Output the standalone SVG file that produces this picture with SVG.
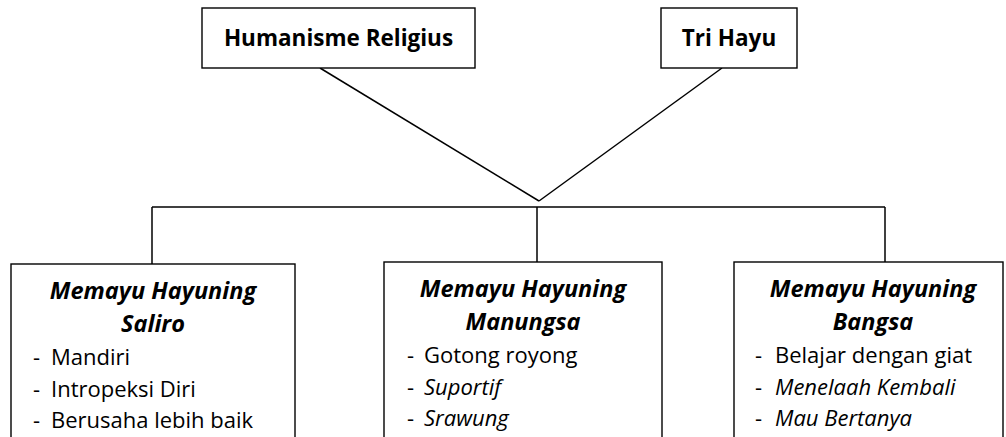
<svg xmlns="http://www.w3.org/2000/svg" width="1006" height="437" viewBox="0 0 1006 437">
<style>
.box{fill:#fff;stroke:#000;stroke-width:1.4}
.ln{fill:none;stroke:#000;stroke-width:1.5}
text{font-family:"Open Sans","Noto Sans",sans-serif;fill:#000}
.hd{font-weight:bold;font-size:22.5px;text-anchor:middle}
.ti{font-weight:bold;font-style:italic;font-size:23.5px;text-anchor:middle}
.it{font-size:22px}
.i{font-style:italic}
</style>
<rect width="1006" height="437" fill="#fff"/>
<g id="connectors">
<line class="ln" x1="320" y1="68" x2="539" y2="201"/>
<line class="ln" x1="722" y1="68" x2="539" y2="201"/>
<line class="ln" x1="152" y1="207" x2="885" y2="207"/>
<line class="ln" x1="152" y1="207" x2="152" y2="264"/>
<line class="ln" x1="537" y1="207" x2="537" y2="262"/>
<line class="ln" x1="885" y1="207" x2="885" y2="262"/>
</g>
<g id="humanisme">
<rect class="box" x="202" y="8" width="273" height="60"/>
<text class="hd" x="338.5" y="46">Humanisme Religius</text>
</g>
<g id="trihayu">
<rect class="box" x="661" y="8" width="136" height="60"/>
<text class="hd" x="729" y="46">Tri Hayu</text>
</g>
<g id="saliro">
<rect class="box" x="11" y="264" width="284" height="190"/>
<text class="ti" x="153" y="299">Memayu Hayuning</text>
<text class="ti" x="153" y="332">Saliro</text>
<text class="it" x="33" y="365">-</text><text class="it" x="51" y="365">Mandiri</text>
<text class="it" x="33" y="397">-</text><text class="it" x="51" y="397">Intropeksi Diri</text>
<text class="it" x="33" y="428">-</text><text class="it" x="51" y="428">Berusaha lebih baik</text>
</g>
<g id="manungsa">
<rect class="box" x="384" y="262" width="278" height="190"/>
<text class="ti" x="523" y="297">Memayu Hayuning</text>
<text class="ti" x="523" y="330">Manungsa</text>
<text class="it" x="407" y="363">-</text><text class="it" x="424" y="363">Gotong royong</text>
<text class="it" x="407" y="395">-</text><text class="it i" x="424" y="395">Suportif</text>
<text class="it" x="407" y="426">-</text><text class="it i" x="424" y="426">Srawung</text>
</g>
<g id="bangsa">
<rect class="box" x="734" y="262" width="269" height="190"/>
<text class="ti" x="873" y="297">Memayu Hayuning</text>
<text class="ti" x="873" y="330">Bangsa</text>
<text class="it" x="755" y="363">-</text><text class="it" x="775" y="363">Belajar dengan giat</text>
<text class="it" x="755" y="395">-</text><text class="it i" x="775" y="395">Menelaah Kembali</text>
<text class="it" x="755" y="426">-</text><text class="it i" x="775" y="426">Mau Bertanya</text>
</g>
</svg>
